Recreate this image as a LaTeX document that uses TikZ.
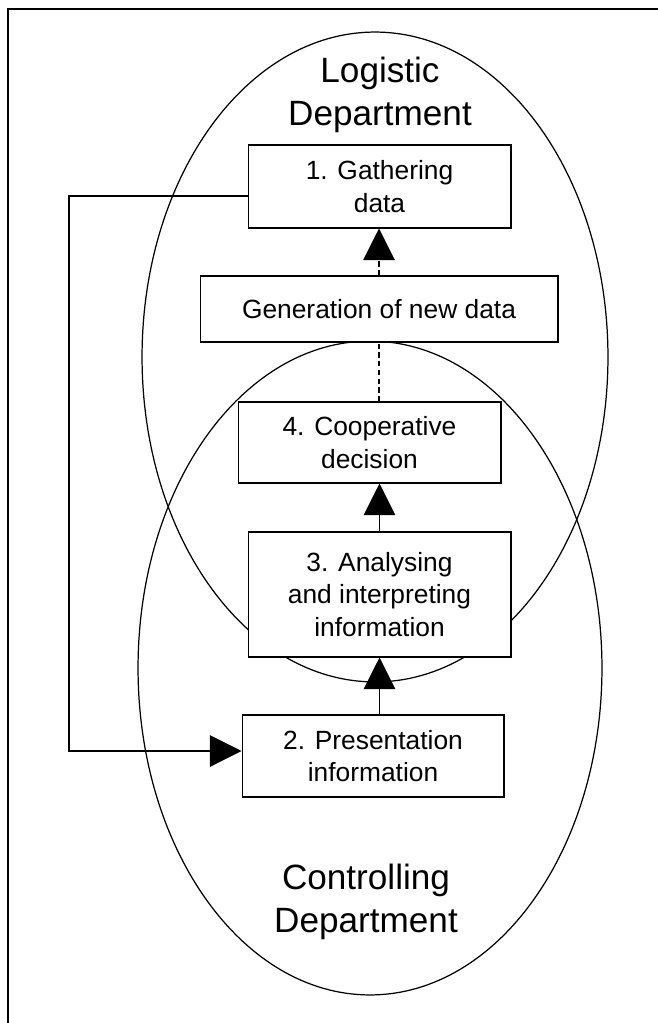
\documentclass[tikz,border=0pt]{standalone}
\usepackage{fontspec}
\setmainfont{Liberation Sans}
\usetikzlibrary{arrows.meta}

\begin{document}
\begin{tikzpicture}[x=0.02cm, y=-0.02cm,
  stepbox/.style={draw, fill=white, line width=0.6pt, align=center, inner sep=0pt,
    font=\fontsize{15}{18.5}\selectfont},
  dept/.style={align=center, inner sep=0pt, font=\fontsize{20}{24.5}\selectfont},
  flow/.style={line width=0.6pt, -{Triangle[width=18pt,length=18pt]}},
  link/.style={flow, dash pattern=on 3pt off 2pt}]
  \useasboundingbox (0,0) rectangle (658,1023);
  \draw[line width=0.8pt] (8,1023) -- (8,9) -- (658,9);
  \draw[line width=0.7pt] (375,357) ellipse [x radius=4.66cm, y radius=6.5cm];
  \draw[line width=0.7pt] (370,668) ellipse [x radius=4.64cm, y radius=6.54cm];
  \node[dept] (logistic) at (380,95) {Logistic\\Department};
  \node[dept] (controlling) at (366,902) {Controlling\\Department};
  \node[stepbox, minimum width=5.26cm, minimum height=1.66cm] (gather) at (379.5,186.5) {1. Gathering\\data};
  \node[stepbox, minimum width=7.16cm, minimum height=1.32cm] (newdata) at (379,309) {Generation of new data};
  \node[stepbox, minimum width=5.26cm, minimum height=1.62cm] (decision) at (369.5,442.5) {4. Cooperative\\decision};
  \node[stepbox, minimum width=5.26cm, minimum height=2.5cm] (analyse) at (379.5,594.5) {3. Analysing\\and interpreting\\information};
  \node[stepbox, minimum width=5.24cm, minimum height=1.64cm] (present) at (373,756) {2. Presentation\\information};
  \coordinate (fb1) at (69,196);
  \coordinate (fb2) at (69,751);
  \draw[flow] (present.north -| analyse.north) -- (analyse.south);
  \draw[flow] (analyse.north) -- (analyse.north |- decision.south);
  \draw[line width=0.6pt, dash pattern=on 3pt off 2pt] (decision.north -| newdata.south) -- (newdata.south);
  \draw[link] (newdata.north) -- (newdata.north |- gather.south);
  \draw[flow] (gather.west |- fb1) -- (fb1) -- (fb2) -- (fb2 -| present.west);
\end{tikzpicture}
\end{document}
